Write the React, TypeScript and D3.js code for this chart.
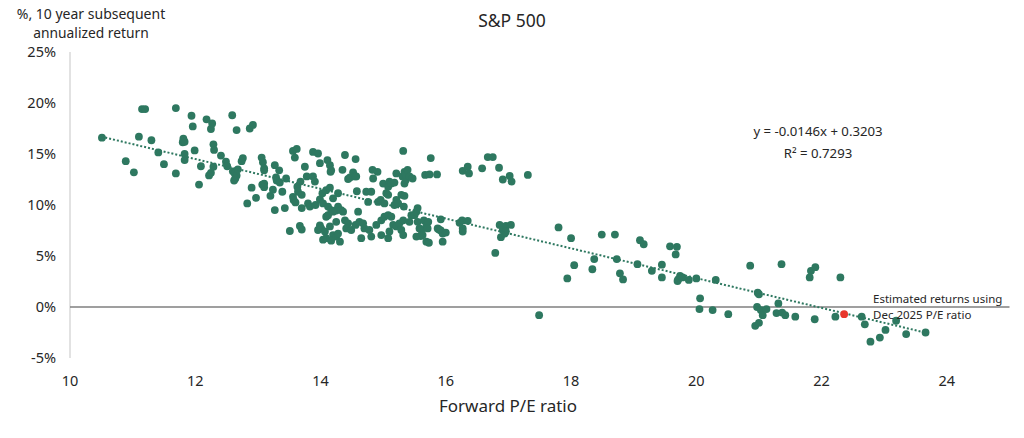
import { useEffect, useRef } from 'react';
import * as d3 from 'd3';

// Forward P/E at each month and the annualized return over the next 10 years (%)
const peRatio: number[] = [
    10.51, 10.89, 11.02, 11.1, 11.15, 11.2, 11.3, 11.41, 11.5, 11.69, 11.69, 11.8, 11.81, 11.83, 11.83, 11.83,
    11.94, 11.96, 11.99, 12.06, 12.09, 12.18, 12.25, 12.27, 12.22, 12.25, 12.29, 12.3, 12.29, 12.41, 12.49, 12.51,
    12.59, 12.66, 12.6, 12.63, 12.66, 12.64, 12.62, 12.68, 12.74, 12.76, 12.87, 12.92,
    12.83, 12.9, 12.97, 13.06, 13.08, 13.1, 13.1, 13.07, 13.1, 13.1, 13.2, 13.24, 13.27, 13.34, 13.29, 13.3,
    13.35, 13.45, 13.39, 13.27, 13.43, 13.51, 13.56, 13.62, 13.59, 13.56, 13.57, 13.6, 13.63, 13.68, 13.64, 13.7,
    13.67, 13.7, 13.7, 13.75,
    13.78, 13.8, 13.83, 13.88, 13.88, 13.91, 13.92, 13.96, 13.99, 13.99, 13.96, 13.99, 14.01, 14.03, 14.04, 14.07,
    14.09, 14.09, 14.09, 14.11, 14.12, 14.12, 14.15, 14.15, 14.15, 14.16, 14.17, 14.17, 14.2, 14.25, 14.25, 14.28,
    14.28, 14.31, 14.33, 14.36, 14.35, 14.39, 14.44, 14.47, 14.52, 14.55, 14.56, 14.57, 14.58, 14.6, 14.04, 14.17,
    14.2, 14.25, 14.39, 14.44, 14.41, 14.49, 14.56, 14.62, 14.68, 14.7, 14.65, 14.78, 14.81, 14.89, 14.97, 15.02,
    15.08, 15.13, 15.16, 15.21, 15.26, 15.32, 15.29, 15.32, 15.1, 15.08, 14.97, 15.42, 15.55, 15.45, 15.55, 14.28,
    14.2,
    14.73, 14.81, 14.76, 14.83, 14.84, 14.91, 14.92, 14.96, 15.0, 15.02, 15.05, 15.08, 15.08, 15.1, 15.13, 15.18,
    15.18, 15.21, 15.21, 15.24, 15.29, 15.31, 15.32, 15.33, 15.34, 15.34, 15.34, 15.36, 15.37, 15.39, 15.42, 15.47,
    15.5, 15.53, 15.67, 15.74, 15.76, 15.86,
    15.53, 15.58, 15.6, 15.61, 15.63, 15.65, 15.69, 15.69, 15.72, 15.71, 15.73, 15.87, 15.89, 15.92, 15.92, 15.95,
    15.95, 16.0, 16.22, 16.26, 16.27, 16.27, 16.35, 16.27, 16.35, 16.37, 16.58, 16.67, 16.75, 16.85, 16.91, 17.02,
    17.05, 17.31,
    16.79, 16.86, 16.88, 16.91, 16.94, 16.96, 16.96, 17.04, 17.49, 17.8, 17.94, 18.0, 18.05, 18.34, 18.37, 18.49,
    18.7, 18.73, 18.78, 18.83, 19.06, 19.1, 19.16, 19.29, 19.45, 19.45, 19.58, 19.69, 19.67, 19.7, 19.71, 19.74,
    19.78, 19.88, 20.0, 20.06, 20.05, 20.26, 20.31, 20.51, 20.86, 20.94, 20.97, 20.98, 21.0, 21.0, 21.03, 21.06,
    21.12, 21.28, 21.31, 21.36, 21.37, 21.42, 21.58, 21.81, 21.83, 21.89, 21.9, 22.22, 22.3, 22.64, 22.69, 22.78,
    22.93, 23.02, 23.19, 23.35, 23.66,
];

const annualReturn: number[] = [
    16.6, 14.3, 13.2, 16.7, 19.4, 19.4, 16.35, 15.15, 14.0, 19.5, 13.1, 16.15, 16.5, 16.2, 15.0, 14.4,
    18.75, 17.7, 15.35, 12.0, 13.8, 18.4, 17.45, 18.0, 12.9, 13.15, 15.95, 15.4, 13.75, 14.85, 14.25, 13.8,
    18.8, 17.35, 13.3, 13.1, 12.9, 12.6, 12.4, 13.5, 14.3, 14.6, 17.5, 17.85,
    10.15, 11.7, 10.7, 14.65, 14.2, 13.6, 13.4, 12.0, 12.1, 11.75, 10.9, 11.5, 13.9, 13.4, 12.7, 12.4,
    12.2, 12.6, 11.3, 9.5, 9.7, 7.45, 15.3, 15.5, 14.65, 10.8, 10.5, 10.25, 11.8, 12.3, 11.3, 11.0,
    7.95, 7.6, 9.7, 13.75,
    12.8, 10.15, 9.85, 15.2, 12.8, 12.3, 10.0, 15.05, 14.1, 10.55, 7.55, 8.0, 7.7, 11.15, 10.15, 7.4,
    11.45, 8.85, 6.75, 14.4, 9.85, 9.0, 13.9, 11.7, 7.9, 13.25, 13.4, 9.5, 7.05, 9.45, 6.9, 9.85,
    7.2, 6.4, 9.5, 9.35, 13.45, 14.9, 12.55, 12.7, 13.2, 12.8, 14.5, 12.8, 11.35, 9.35, 6.6, 6.5,
    9.35, 8.35, 8.5, 8.2, 7.7, 7.55, 8.05, 8.35, 8.2, 7.7, 6.75, 7.55, 6.9, 8.05, 8.5, 8.85,
    9.0, 8.85, 8.05, 7.9, 8.2, 8.5, 7.55, 7.05, 7.4, 6.75, 7.05, 8.35, 8.35, 9.0, 9.7, 11.15,
    10.65,
    11.3, 11.3, 10.3, 13.45, 12.6, 13.25, 10.3, 10.5, 12.1, 10.15, 11.15, 11.0, 11.8, 12.3, 12.1, 12.2,
    10.0, 13.1, 10.5, 10.15, 11.0, 12.8, 15.3, 9.85, 13.25, 12.1, 10.9, 12.45, 12.95, 13.45, 12.8, 12.6,
    9.0, 9.35, 12.95, 13.0, 14.6, 13.0,
    6.9, 7.7, 6.95, 7.55, 7.05, 8.5, 6.4, 8.0, 8.35, 7.7, 6.3, 7.7, 7.6, 8.6, 7.5, 7.2,
    6.4, 7.3, 8.25, 8.5, 7.7, 7.4, 8.45, 13.35, 13.75, 13.1, 13.6, 14.7, 14.7, 13.65, 12.5, 12.85,
    12.3, 12.95,
    5.3, 8.05, 6.85, 7.55, 7.2, 7.95, 7.4, 8.05, -0.8, 7.8, 2.8, 6.75, 4.1, 3.7, 4.7, 7.1,
    7.1, 4.7, 3.3, 2.7, 4.2, 6.55, 6.15, 3.55, 4.15, 2.9, 5.95, 5.9, 5.15, 2.55, 2.7, 3.05,
    2.9, 2.65, 2.8, 0.85, -0.2, -0.3, 2.65, -0.7, 4.05, -1.85, 0.0, 1.4, 1.25, -1.55, -0.3, -0.8,
    -0.2, -0.6, 0.35, 4.2, -0.55, -0.8, -0.95, 2.9, 3.55, -1.2, 3.9, -0.95, 2.9, -0.95, -1.7, -3.4,
    -3.0, -2.25, -1.35, -2.65, -2.5,
];

// Dec 2025 estimate
const estimatePE: number[] = [22.36];
const estimateReturn: number[] = [-0.7];

// Linear fit shown on the chart (return as a fraction)
const fitSlope = -0.0146;
const fitIntercept = 0.3203;
const fitRange: number[] = [10.5, 23.7];

const xTicks: number[] = [10, 12, 14, 16, 18, 20, 22, 24];
const yTicks: number[] = [-5, 0, 5, 10, 15, 20, 25];

const WIDTH = 1024;
const HEIGHT = 438;
const FONT = '"Noto Sans", "Open Sans", sans-serif';
const GREEN = '#2e7860';
const TEXT = '#262626';

const ScatterChart = () => {
    const ref = useRef<HTMLDivElement>(null);

    useEffect(() => {
        if (!ref.current) return;
        ref.current.innerHTML = '';

        const x = d3.scaleLinear().domain([10, 25]).range([70, 1009.5]);
        const y = d3.scaleLinear().domain([-5, 25]).range([358, 52]);

        const svg = d3.select(ref.current)
            .append('svg')
            .attr('width', WIDTH)
            .attr('height', HEIGHT)
            .style('display', 'block')
            .style('font-family', FONT);

        svg.append('rect').attr('width', WIDTH).attr('height', HEIGHT).attr('fill', '#fff');

        // helper for the plain labels
        const label = (px: number, py: number, text: string, size: number, anchor = 'middle') =>
            svg.append('text')
                .attr('x', px).attr('y', py)
                .attr('dy', '0.35em')
                .attr('text-anchor', anchor)
                .attr('font-size', size)
                .attr('fill', TEXT)
                .text(text);

        // Y axis line
        svg.append('line')
            .attr('x1', x(10)).attr('x2', x(10))
            .attr('y1', y(25)).attr('y2', y(-5))
            .attr('stroke', '#d9d9d9')
            .attr('stroke-width', 1.5);

        // zero line
        svg.append('line')
            .attr('x1', x(10)).attr('x2', x(25))
            .attr('y1', y(0)).attr('y2', y(0))
            .attr('stroke', '#7f7f7f')
            .attr('stroke-width', 1.5);

        // tick labels
        svg.append('g')
            .selectAll('text')
            .data(yTicks)
            .join('text')
            .attr('x', 56)
            .attr('y', d => y(d))
            .attr('dy', '0.35em')
            .attr('text-anchor', 'end')
            .attr('font-size', 14.5)
            .attr('fill', TEXT)
            .text(d => `${d}%`);

        svg.append('g')
            .selectAll('text')
            .data(xTicks)
            .join('text')
            .attr('x', d => x(d))
            .attr('y', 381)
            .attr('dy', '0.35em')
            .attr('text-anchor', 'middle')
            .attr('font-size', 14.5)
            .attr('fill', TEXT)
            .text(d => d);

        // points
        const points = peRatio.map((pe, i) => ({ pe, ret: annualReturn[i] }));
        svg.append('g')
            .selectAll('circle')
            .data(points)
            .join('circle')
            .attr('cx', d => x(d.pe))
            .attr('cy', d => y(d.ret))
            .attr('r', 3.9)
            .attr('fill', GREEN);

        // trend line
        const line = d3.line<number>()
            .x(d => x(d))
            .y(d => y((fitSlope * d + fitIntercept) * 100));
        svg.append('path')
            .datum(fitRange)
            .attr('d', line)
            .attr('fill', 'none')
            .attr('stroke', GREEN)
            .attr('stroke-width', 2)
            .attr('stroke-dasharray', '2,2');

        // estimate point
        svg.append('g')
            .selectAll('circle')
            .data(estimatePE.map((pe, i) => ({ pe, ret: estimateReturn[i] })))
            .join('circle')
            .attr('cx', d => x(d.pe))
            .attr('cy', d => y(d.ret))
            .attr('r', 3.9)
            .attr('fill', '#e8372c');

        // titles and notes
        label(512, 21, 'S&P 500', 17.5);
        label(91, 14, '%, 10 year subsequent', 14);
        label(91, 33, 'annualized return', 13.8);
        label(508, 406, 'Forward P/E ratio', 17);
        label(818, 131, 'y = -0.0146x + 0.3203', 13.2);
        label(818, 153, 'R² = 0.7293', 13.2);
        label(873, 299, 'Estimated returns using', 11.5, 'start');
        label(873, 315, 'Dec 2025 P/E ratio', 11.5, 'start');
    }, []);

    return <div ref={ref} style={{ position: 'absolute', left: 0, top: 0, width: WIDTH, height: HEIGHT }} />;
};

export default function App() {
    return <ScatterChart />;
}
